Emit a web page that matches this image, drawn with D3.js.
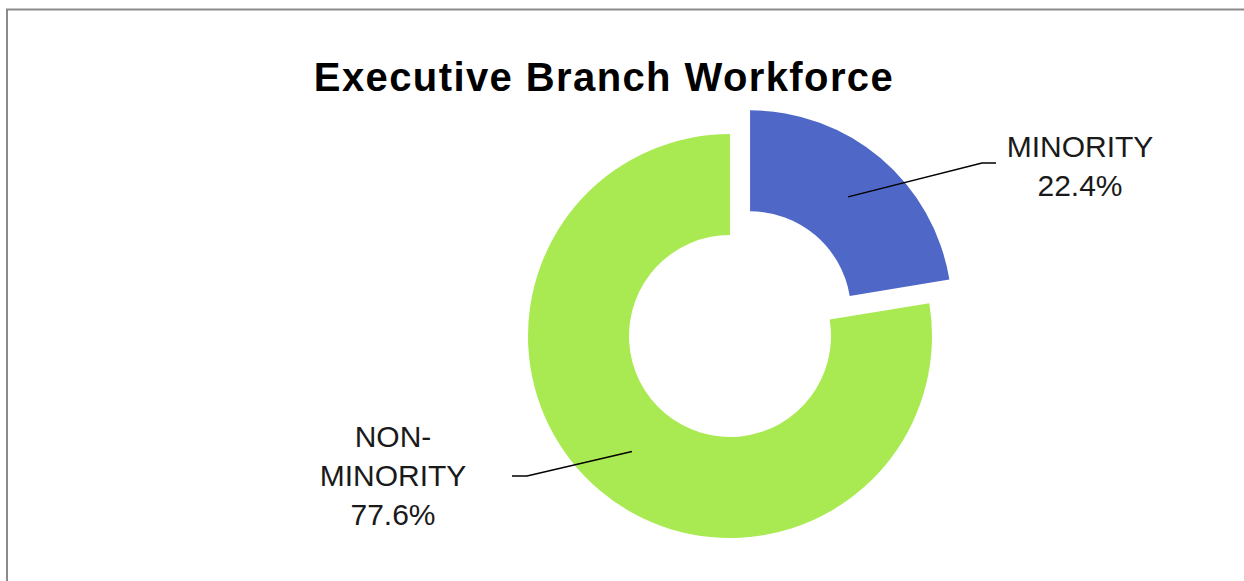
<!DOCTYPE html>
<html>
<head>
<meta charset="utf-8">
<script src="https://cdn.jsdelivr.net/npm/d3@7"></script>
<style>
  html, body { margin: 0; padding: 0; background: #fff; }
  svg { display: block; }
</style>
</head>
<body>
<svg id="chart" width="1244" height="581"></svg>
<script>
// Workforce composition
const categories = ["MINORITY", "NON-MINORITY"];
const shares = [22.4, 77.6];
const labelLines = [["MINORITY"], ["NON-", "MINORITY"]];
const sliceColors = ["#4F68C8", "#A9EA52"];

const W = 1244, H = 581;
const cx = 730, cy = 336;
const outerR = 202, innerR = 101;
const explode = [31, 0];
// label text anchors and leader elbows, relative to the donut centre
const labelLayout = [
  { tx: 350, ty: -179, elbow: [252, -173], tail: [266, -173] },
  { tx: -337, ty: 111, elbow: [-203, 140], tail: [-218, 140] }
];

const svg = d3.select("#chart");
svg.append("rect").attr("width", W).attr("height", H).attr("fill", "#fff");

// chart frame
svg.append("path")
  .attr("d", `M7,${H + 5} V9.5 H${W + 5}`)
  .attr("fill", "none")
  .attr("stroke", "#8a8a8a")
  .attr("stroke-width", 2);

svg.append("text")
  .attr("x", 604)
  .attr("y", 91)
  .attr("text-anchor", "middle")
  .attr("font-family", "'Liberation Sans', Arial, sans-serif")
  .attr("font-weight", "bold")
  .attr("font-size", 40)
  .attr("letter-spacing", 1.4)
  .attr("fill", "#000")
  .text("Executive Branch Workforce");

const data = categories.map((c, i) => ({ name: c, value: shares[i], i }));
const pie = d3.pie().sort(null).value(d => d.value).startAngle(0).endAngle(2 * Math.PI);
const arc = d3.arc().innerRadius(innerR).outerRadius(outerR);
const arcs = pie(data);

const g = svg.append("g").attr("transform", `translate(${cx},${cy})`);

arcs.forEach(a => {
  const mid = (a.startAngle + a.endAngle) / 2;
  const off = explode[a.data.i];
  const dx = off * Math.sin(mid), dy = -off * Math.cos(mid);
  const sg = g.append("g").attr("transform", `translate(${dx},${dy})`);
  sg.append("path").attr("d", arc(a)).attr("fill", sliceColors[a.data.i]);

  // leader line from slice centroid to label
  const c = arc.centroid(a);
  const L = labelLayout[a.data.i];
  const start = [c[0] + dx, c[1] + dy];
  g.append("polyline")
    .attr("points", [start, L.elbow, L.tail].map(p => p.join(",")).join(" "))
    .attr("fill", "none")
    .attr("stroke", "#000")
    .attr("stroke-width", 1.5);

  const lines = labelLines[a.data.i].concat([d3.format(".1f")(a.data.value) + "%"]);
  const t = g.append("text")
    .attr("text-anchor", "middle")
    .attr("font-family", "'Liberation Sans', Arial, sans-serif")
    .attr("font-size", 30)
    .attr("fill", "#1a1a1a");
  lines.forEach((ln, k) => {
    t.append("tspan")
      .attr("x", L.tx)
      .attr("y", L.ty + k * 39)
      .text(ln);
  });
});
</script>
</body>
</html>
